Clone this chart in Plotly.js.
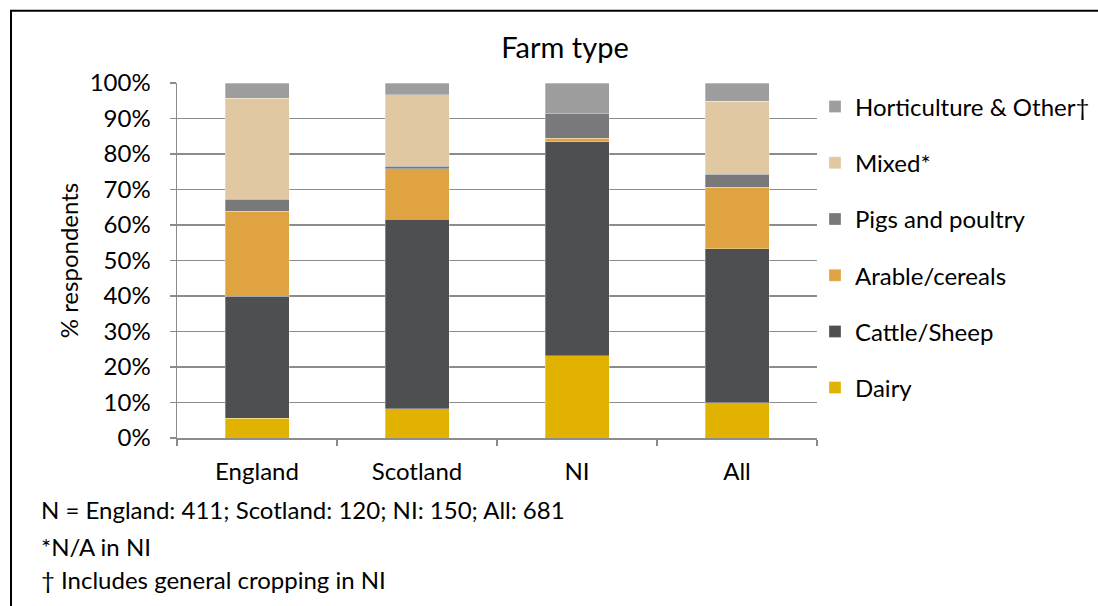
<!DOCTYPE html>
<html>
<head>
<meta charset="utf-8">
<script src="https://cdn.plot.ly/plotly-3.0.1.min.js"></script>
<style>
  html, body { margin: 0; padding: 0; background: #ffffff; }
  #chart { width: 1098px; height: 606px; }
</style>
</head>
<body>
<div id="chart"></div>
<script>
// Regions on the x axis
const regions = ['England', 'Scotland', 'NI', 'All'];

// Share of respondents by farm type (%), stacked bottom to top
const dairy        = [5.6, 8.2, 23.2, 10.0];
const cattleSheep  = [34.4, 53.4, 60.2, 43.3];
const arable       = [23.9, 14.2, 1.1, 17.3];
const pigsPoultry  = [3.4, 0.8, 6.8, 3.7];
const mixed        = [28.4, 20.1, 0.0, 20.6];
const horticulture = [4.3, 3.3, 8.7, 5.1];

const seriesNames = ['Dairy', 'Cattle/Sheep', 'Arable/cereals', 'Pigs and poultry', 'Mixed*', 'Horticulture & Other\u2020'];
const seriesValues = [dairy, cattleSheep, arable, pigsPoultry, mixed, horticulture];
const seriesColors = ['#E1B300', '#4D4F51', '#E0A342', '#79797B', '#E0C8A2', '#9D9D9D'];

const yTicks = [0, 10, 20, 30, 40, 50, 60, 70, 80, 90, 100];
const yTickText = yTicks.map(v => v + '%');

const footnotes = [
  'N = England: 411; Scotland: 120; NI: 150; All: 681',
  '*N/A in NI',
  '\u2020 Includes general cropping in NI'
];

const FONT = 'Lato, "Open Sans", sans-serif';
const FS = 24;
const TXT = '#000000';

const traces = seriesNames.map((name, i) => ({
  type: 'bar',
  name: name,
  x: regions,
  y: seriesValues[i],
  legendgroup: 'g' + i,
  legendrank: seriesNames.length - i,
  marker: { color: seriesColors[i], line: { color: 'rgba(255,255,255,0.5)', width: 0.6 } },
  hoverinfo: 'x+y+name'
}));

// plot-area geometry in pixels, used to place notes and frame in paper units
const L = 177, R = 817, T = 82.5, B = 438.3;
const px2x = px => (px - L) / (R - L);
const py2y = py => (B - py) / (B - T);

const annotations = footnotes.map((t, i) => ({
  text: t,
  xref: 'paper', yref: 'paper',
  x: px2x(39), y: py2y([510, 547, 580][i]),
  xanchor: 'left', yanchor: 'middle',
  showarrow: false,
  font: { family: FONT, size: FS, color: TXT }
}));

const layout = {
  width: 1098,
  height: 606,
  paper_bgcolor: '#ffffff',
  plot_bgcolor: '#ffffff',
  margin: { l: L, r: 1098 - R, t: T, b: 606 - B, pad: 0, autoexpand: false },
  barmode: 'stack',
  bargap: 0.6,
  title: {
    text: 'Farm type',
    xref: 'container', x: 565 / 1098, xanchor: 'center',
    yref: 'container', y: 1 - 48 / 606, yanchor: 'middle',
    font: { family: FONT, size: 29, color: TXT }
  },
  font: { family: FONT, size: FS, color: TXT },
  xaxis: {
    type: 'category',
    tickson: 'boundaries',
    ticks: 'outside',
    ticklen: 6,
    tickwidth: 1.5,
    tickcolor: '#8C8C8C',
    showline: true,
    linecolor: '#8C8C8C',
    linewidth: 1.5,
    showgrid: false,
    automargin: false,
    ticklabelstandoff: 12,
    tickfont: { family: FONT, size: FS, color: TXT },
    fixedrange: true
  },
  yaxis: {
    range: [0, 100],
    tickvals: yTicks,
    ticktext: yTickText,
    ticks: 'outside',
    ticklen: 6,
    tickwidth: 1.5,
    tickcolor: '#8C8C8C',
    showline: true,
    linecolor: '#8C8C8C',
    linewidth: 1.5,
    showgrid: true,
    gridcolor: '#8C8C8C',
    gridwidth: 1.5,
    zeroline: false,
    automargin: false,
    ticklabelstandoff: 14,
    tickfont: { family: FONT, size: FS, color: TXT },
    title: { text: '% respondents', standoff: 4, font: { family: FONT, size: FS, color: TXT } },
    fixedrange: true
  },
  showlegend: true,
  legend: {
    x: px2x(815), xanchor: 'left',
    y: py2y(84), yanchor: 'top',
    traceorder: 'grouped',
    tracegroupgap: 22,
    font: { family: FONT, size: FS, color: TXT },
    bgcolor: 'rgba(0,0,0,0)',
    itemclick: false,
    itemdoubleclick: false
  },
  annotations: annotations,
  shapes: [
    {
      type: 'path', xref: 'paper', yref: 'paper',
      path: 'M ' + px2x(11) + ',' + py2y(620) + ' L ' + px2x(11) + ',' + py2y(10) + ' L ' + px2x(1110) + ',' + py2y(10),
      line: { color: '#000000', width: 2 }
    }
  ]
};

Plotly.newPlot('chart', traces, layout, { displayModeBar: false, staticPlot: true });
</script>
</body>
</html>
